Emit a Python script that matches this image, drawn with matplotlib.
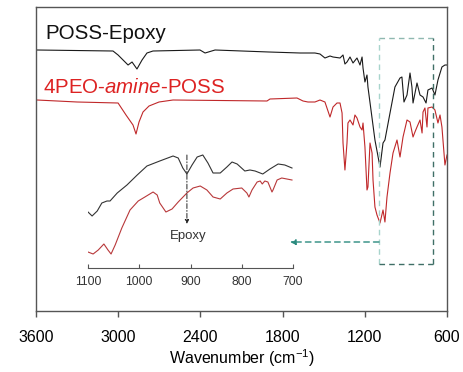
import matplotlib
matplotlib.use("Agg")
import matplotlib.pyplot as plt

plt.rcParams["font.family"] = ["Liberation Sans", "DejaVu Sans"]
plt.rcParams["mathtext.fontset"] = "custom"
plt.rcParams["mathtext.rm"] = "Liberation Sans"
plt.rcParams["mathtext.it"] = "Liberation Sans:italic"

# Full-range FTIR spectra (wavenumber in cm^-1, offset transmittance in a.u.)
epoxy_wn = [3593, 3038, 3001, 2928, 2899, 2863, 2826, 2790, 2746, 2403, 2366, 2293,
            1900, 1673, 1564, 1527, 1491, 1454, 1432, 1381, 1359, 1345, 1330, 1308,
            1286, 1257, 1235, 1220, 1213, 1199, 1184, 1177, 1126, 1089, 1067, 1053,
            1016, 980, 943, 929, 914, 892, 870, 856, 848, 819, 797, 775, 753, 739,
            709, 688, 666, 637, 615, 600]
epoxy_t = [261, 260, 256, 246, 249, 242, 251, 258, 260, 261, 258, 261,
           259, 258, 258, 257, 253, 255, 254, 253, 256, 247, 249, 254,
           248, 253, 246, 254, 243, 229, 236, 224, 171, 144, 168, 171,
           198, 224, 233, 234, 209, 216, 238, 224, 208, 228, 216, 214, 208, 221,
           223, 216, 231, 244, 246, 246]

amine_wn = [3593, 3300, 3001, 2943, 2892, 2870, 2848, 2819, 2775, 2702, 2600, 1914,
            1892, 1695, 1651, 1615, 1564, 1527, 1491, 1454, 1432, 1403, 1381, 1366,
            1359, 1345, 1330, 1323, 1308, 1286, 1272, 1257, 1235, 1220, 1213, 1199,
            1184, 1177, 1162, 1147, 1140, 1126, 1111, 1089, 1067, 1053, 1038, 1016,
            994, 965, 943, 921, 892, 870, 848, 834, 819, 797, 782, 775, 761, 746,
            739, 709, 688, 666, 651, 637, 615, 600]
amine_t = [211, 209, 208, 196, 186, 177, 189, 199, 205, 209, 211, 210,
           212, 213, 210, 209, 209, 211, 209, 194, 204, 208, 208, 198,
           168, 141, 168, 188, 191, 186, 196, 193, 184, 181, 188, 164,
           121, 124, 168, 158, 131, 104, 96, 88, 101, 89, 114, 138,
           158, 171, 154, 174, 191, 189, 174, 179, 184, 191, 178, 199, 203, 184,
           203, 204, 201, 188, 196, 184, 146, 156]

# Expanded 1100-700 cm^-1 region
zoom_epoxy_wn = [1100, 1092, 1082, 1073, 1063, 1057, 1043, 1024, 1004, 985, 960, 934,
                 924, 915, 907, 897, 887, 876, 866, 856, 842, 829, 819, 809, 794,
                 784, 774, 759, 745, 729, 716, 702]
zoom_epoxy_t = [56, 52, 57, 65, 67, 67, 75, 83, 93, 102, 107, 112,
                110, 100, 94, 103, 111, 113, 105, 95, 95, 101, 106, 104, 97,
                98, 97, 94, 99, 104, 103, 100]

zoom_amine_wn = [1100, 1090, 1080, 1069, 1061, 1055, 1047, 1034, 1018, 1002, 989, 973,
                 965, 960, 948, 936, 924, 907, 895, 881, 868, 856, 842, 829, 817,
                 800, 790, 786, 780, 770, 764, 760, 755, 749, 741, 739, 731, 722, 702]
zoom_amine_t = [16, 14, 18, 24, 18, 14, 23, 40, 58, 67, 71, 76,
                73, 65, 56, 59, 66, 75, 80, 82, 78, 71, 69, 75, 79,
                80, 75, 71, 78, 86, 87, 84, 87, 86, 76, 78, 88, 90, 88]

main_ticks = [3600, 3000, 2400, 1800, 1200, 600]
zoom_ticks = [1100, 1000, 900, 800, 700]
epoxy_band = 907

black = "#1a1a1a"
red = "#c0282a"
frame = "#555555"

fig = plt.figure(figsize=(4.64, 3.72), dpi=100)
ax = fig.add_axes([36 / 464, 61 / 372, 411 / 464, 304 / 372])
ax.plot(epoxy_wn, epoxy_t, color=black, lw=0.8)
ax.plot(amine_wn, amine_t, color=red, lw=0.8)
ax.set_xlim(3600, 600)
ax.set_ylim(0, 304)
ax.set_xticks(main_ticks)
ax.set_xticklabels([str(t) for t in main_ticks])
ax.set_yticks([])
ax.tick_params(axis="x", direction="out", length=4, width=1, color=frame,
               labelsize=11.5, pad=10)
for s in ax.spines.values():
    s.set_color(frame)
    s.set_linewidth(1.0)
ax.set_xlabel(r"Wavenumber (cm$^{-1}$)", fontsize=11.5, labelpad=1)

ax.text(3534, 272, "POSS-Epoxy", fontsize=14.8, color="#111111", va="baseline")
ax.text(3549, 218, r"4PEO-$\mathit{amine}$-POSS", fontsize=14.8, color="#dd2222",
        va="baseline")

# dashed box marking the expanded region
box_l, box_r, box_b, box_t = 1096, 702, 47, 273
dash = (0, (4, 3))
ax.plot([box_l, box_r], [box_t, box_t], color="#8fb8b0", lw=1, ls=dash)
ax.plot([box_l, box_l], [box_b, box_t], color="#a8d4cc", lw=1, ls=dash)
ax.plot([box_r, box_r], [box_b, box_t], color="#3f6f66", lw=1, ls=dash)
ax.plot([box_l, box_r], [box_b, box_b], color="#3f6f66", lw=1, ls=dash)
ax.annotate("", xy=(1746, 69), xytext=(box_l, 69),
            arrowprops=dict(arrowstyle="-|>", color="#2a8a7e", lw=1,
                            linestyle=(0, (4, 3)), mutation_scale=8,
                            shrinkA=0, shrinkB=0))

# inset with the expanded spectra
ins = fig.add_axes([88 / 464, 104 / 372, 205 / 464, 118 / 372])
ins.patch.set_alpha(0)
ins.plot(zoom_epoxy_wn, zoom_epoxy_t, color="#333333", lw=0.8)
ins.plot(zoom_amine_wn, zoom_amine_t, color="#b8383a", lw=0.8)
ins.set_xlim(1100, 700)
ins.set_ylim(0, 118)
ins.set_xticks(zoom_ticks)
ins.set_yticks([])
for side in ("top", "left", "right"):
    ins.spines[side].set_visible(False)
ins.spines["bottom"].set_color("#555555")
ins.spines["bottom"].set_linewidth(0.8)
ins.tick_params(axis="x", direction="in", length=3, width=0.8, color="#555555",
                labelsize=8.8, labelcolor="#333333", pad=6)
ins.annotate("", xy=(epoxy_band, 44), xytext=(epoxy_band, 113),
             arrowprops=dict(arrowstyle="-|>", color="#222222", lw=0.7,
                             linestyle=(0, (5, 2, 1, 2)), mutation_scale=6,
                             shrinkA=0, shrinkB=0))
ins.text(epoxy_band - 2, 32, "Epoxy", fontsize=9.5, color="#333333",
         ha="center", va="center")

fig.savefig("out.png", dpi=100)
